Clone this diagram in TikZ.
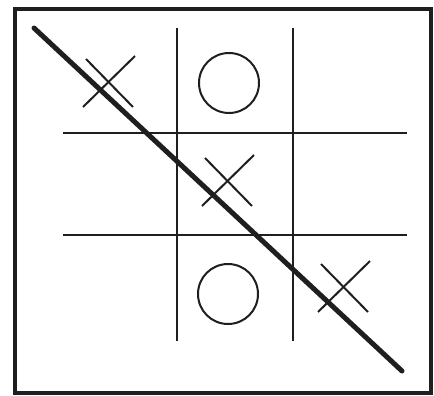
\documentclass[tikz,border=0pt]{standalone}
\begin{document}
\begin{tikzpicture}[x=1pt,y=-1pt,
  ink/.style={draw=black!88},
  frame/.style={ink,line width=4pt},
  gridline/.style={ink,line width=2pt},
  xstroke/.style={ink,line width=2pt},
  ostroke/.style={ink,line width=2pt},
  winline/.style={ink,line width=5pt,line cap=round}]
\useasboundingbox (0,0) rectangle (434,396);
\fill[white] (0,0) rectangle (434,396);
% frame
\draw[frame] (15,9) rectangle (431,393);
% grid
\draw[gridline] (177,28) -- (177,341);
\draw[gridline] (293,28) -- (293,341);
\draw[gridline] (63,133) -- (407,133);
\draw[gridline] (63,235) -- (407,235);
% X marks
\foreach \cx/\cy in {109/82, 228/181, 344/287}{
  \draw[xstroke] (\cx-26,\cy+25) -- (\cx+26,\cy-26);
  \draw[xstroke] (\cx-23,\cy-23) -- (\cx+24,\cy+25);
}
% O marks
\draw[ostroke] (229,83) circle (30);
\draw[ostroke] (228,294) circle (30);
% winning line
\coordinate (ws) at (34,28);
\coordinate (we) at (402,371);
\draw[winline] (ws) -- (we);
\end{tikzpicture}
\end{document}
